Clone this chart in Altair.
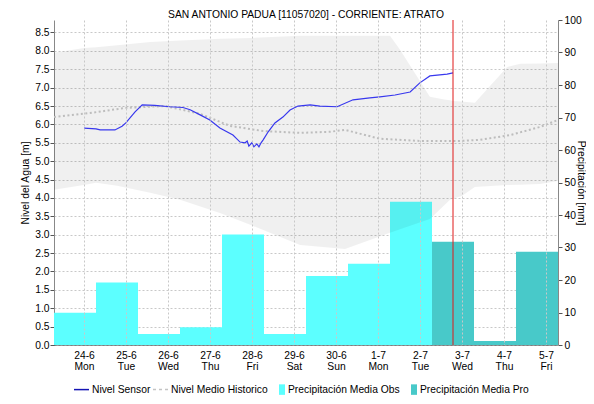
import json
import altair as alt
import pandas as pd

TITLE = "SAN ANTONIO PADUA [11057020] - CORRIENTE: ATRATO"
FONT = "Liberation Sans"
FS = 10.3

# ---- categories / ticks ----
day_labels = ["24-6", "25-6", "26-6", "27-6", "28-6", "29-6", "30-6", "1-7", "2-7", "3-7", "4-7", "5-7"]
weekday_labels = ["Mon", "Tue", "Wed", "Thu", "Fri", "Sat", "Sun", "Mon", "Tue", "Wed", "Thu", "Fri"]
tick_offset = 0.714
level_ticks = [0.0, 0.5, 1.0, 1.5, 2.0, 2.5, 3.0, 3.5, 4.0, 4.5, 5.0, 5.5, 6.0, 6.5, 7.0, 7.5, 8.0, 8.5]
precip_ticks = [0, 10, 20, 30, 40, 50, 60, 70, 80, 90, 100]

series_names = ["Nivel Sensor", "Nivel Medio Historico", "Precipitación Media Obs", "Precipitación Media Pro"]
series_colors = ["#1414b4", "#c4c4c4", "#5cffff", "#48c9c9"]

# ---- precipitation (mm), one per day slot ----
precip_obs = [9.9, 19.2, 3.4, 5.5, 34.0, 3.4, 21.2, 25.0, 44.1]
precip_pro = [31.8, 1.2, 28.7]

# ---- water level sensor (m) ----
sensor_x = [0.714, 1.0, 1.10, 1.45, 1.62, 1.71, 1.93, 2.10, 2.40, 2.76, 3.07, 3.24, 3.48, 3.71,
            3.95, 4.26, 4.43, 4.55, 4.60, 4.64, 4.71, 4.76, 4.83, 4.88, 4.93, 4.98, 5.10, 5.26,
            5.45, 5.62, 5.81, 6.10, 6.33, 6.74, 7.12, 7.52, 7.76, 8.12, 8.48, 8.71, 8.95, 9.36, 9.5]
sensor_y = [5.90, 5.88, 5.85, 5.85, 5.95, 6.04, 6.34, 6.53, 6.52, 6.48, 6.46, 6.40, 6.26, 6.12,
            5.90, 5.71, 5.52, 5.50, 5.55, 5.41, 5.50, 5.39, 5.47, 5.39, 5.50, 5.58, 5.80, 6.04,
            6.20, 6.39, 6.50, 6.53, 6.50, 6.48, 6.67, 6.72, 6.75, 6.80, 6.88, 7.13, 7.32, 7.37, 7.40]

# ---- historic mean level (m) ----
mean_x = [0, 0.857, 1.714, 2.643, 3.476, 4.19, 4.976, 5.857, 6.57, 6.93, 7.76, 8.71, 9.67, 10.14, 10.86, 11.57, 12]
mean_y = [6.20, 6.31, 6.45, 6.50, 6.29, 5.96, 5.82, 5.77, 5.80, 5.85, 5.61, 5.55, 5.55, 5.58, 5.71, 5.93, 6.12]

# ---- historic range band (m) ----
band_x = [0, 0.714, 1.0, 1.5, 2.286, 3.0, 3.95, 4.67, 5.86, 6.93, 8.0, 8.24, 8.95, 9.3, 9.43, 9.5,
          9.71, 10.02, 10.79, 11.1, 11.57, 12]
band_high = [7.95, 8.08, 8.10, 8.15, 8.24, 8.28, 8.33, 8.35, 8.41, 8.41, 8.41, 8.03, 6.75, 6.68, 6.66,
             6.64, 6.62, 6.59, 7.56, 7.65, 7.66, 7.67]
band_low = [4.22, 4.35, 4.41, 4.33, 4.14, 3.95, 3.59, 3.27, 2.72, 2.61, 3.05, 3.15, 3.43, 3.81, 3.95,
            3.98, 4.05, 4.30, 4.35, 4.36, 4.38, 4.46]

now_x = 9.5

# ---- tables ----
bar_df = pd.DataFrame({
    "slot": list(range(len(precip_obs) + len(precip_pro))),
    "mm": precip_obs + precip_pro,
    "kind": ["obs"] * len(precip_obs) + ["pro"] * len(precip_pro),
})
sensor_df = pd.DataFrame({"x": sensor_x, "y": sensor_y})
mean_df = pd.DataFrame({"x": mean_x, "y": mean_y})
band_df = pd.DataFrame({"x": band_x, "low": band_low, "high": band_high})
now_df = pd.DataFrame({"x": [now_x]})
legend_df = pd.DataFrame({"serie": series_names})

# ---- scales / axes ----
x_scale = alt.Scale(domain=[0, len(day_labels)], nice=False, zero=False, padding=0)
label_pairs = [[d, w] for d, w in zip(day_labels, weekday_labels)]
x_axis = alt.Axis(
    values=[i + tick_offset for i in range(len(day_labels))],
    labelExpr=f"{json.dumps(label_pairs)}[round(datum.value - {tick_offset})]",
    title=None, grid=True, gridDash=[2, 2], gridColor="#c8c8c8",
    ticks=False, domainDash=[1, 1], domainColor="#333", labelPadding=5,
    labelLineHeight=11, labelFlush=False, labelOverlap=False, zindex=1,
)
lvl_scale = alt.Scale(domain=[0, 8.84], nice=False, zero=False)
lvl_axis = alt.Axis(
    orient="left", values=level_ticks, format=".1f", title="Nivel del Agua [m]",
    grid=True, gridDash=[2, 2], gridColor="#c8c8c8", tickSize=4, tickColor="#555",
    domainColor="#888", labelPadding=1, titlePadding=4,
)
pr_scale = alt.Scale(domain=[0, 100], nice=False)
pr_axis = alt.Axis(
    orient="right", values=precip_ticks, title="Precipitación [mm]", grid=False,
    tickSize=4, tickColor="#555", domainColor="#888", labelPadding=2, titlePadding=-6,
)


def X(field):
    return alt.X(field, scale=x_scale, axis=x_axis)


bars = alt.Chart(bar_df).transform_calculate(
    x0="datum.slot", x1="datum.slot + 1"
).mark_bar(orient="vertical", strokeWidth=0).encode(
    x=X("x0:Q"), x2="x1:Q",
    y=alt.Y("mm:Q", scale=pr_scale, axis=pr_axis),
    color=alt.condition(alt.datum.kind == "pro", alt.value(series_colors[3]), alt.value(series_colors[2])),
)

band = alt.Chart(band_df).mark_area(color="#000000", opacity=0.06).encode(
    x=X("x:Q"), y=alt.Y("low:Q", scale=lvl_scale, axis=lvl_axis), y2="high:Q"
)
mean_line = alt.Chart(mean_df).mark_line(color="#bdbdbd", strokeDash=[2, 2.5], strokeWidth=2).encode(
    x=X("x:Q"), y=alt.Y("y:Q", scale=lvl_scale, axis=lvl_axis)
)
sensor_line = alt.Chart(sensor_df).mark_line(color="#3838ee", strokeWidth=1.2).encode(
    x=X("x:Q"), y=alt.Y("y:Q", scale=lvl_scale, axis=lvl_axis)
)
now_rule = alt.Chart(now_df).mark_rule(color="#e01818", strokeWidth=1).encode(x=X("x:Q"))

level = alt.layer(band, mean_line, sensor_line, now_rule)

legend_paths = [
    "M-1,-0.1H1V0.1H-1Z",
    "M-1,-0.1H-0.6V0.1H-1Z M-0.2,-0.1H0.2V0.1H-0.2Z M0.6,-0.1H1V0.1H0.6Z",
    "M0.2,-0.7H1V0.7H0.2Z",
    "M0.2,-0.7H1V0.7H0.2Z",
]
leg = alt.Legend(
    title=None, orient="none", legendX=20, legendY=362, direction="horizontal",
    columnPadding=2, labelOffset=3, symbolSize=225, symbolStrokeWidth=0,
    labelFont=FONT, labelFontSize=FS, labelColor="#000", padding=0,
)
legend_layer = alt.Chart(legend_df).transform_filter("false").mark_point(filled=True, opacity=1).encode(
    color=alt.Color("serie:N", scale=alt.Scale(domain=series_names, range=series_colors), legend=leg),
    shape=alt.Shape("serie:N", scale=alt.Scale(domain=series_names, range=legend_paths), legend=leg),
)

chart = alt.layer(bars, level, legend_layer).resolve_scale(y="independent").properties(
    width=504, height=325,
    autosize=alt.AutoSizeParams(type="none"),
    padding={"left": 46, "top": 12, "right": 28, "bottom": 51},
    title=alt.TitleParams(TITLE, font=FONT, fontSize=FS, fontWeight="normal", color="#000",
                          anchor="middle", frame="group", offset=-13, baseline="alphabetic"),
).configure_axis(
    labelFont=FONT, labelFontSize=FS, labelColor="#000",
    titleFont=FONT, titleFontSize=FS, titleFontWeight="normal", titleColor="#000",
).configure_view(stroke=None)

chart.save("out.html", embed_options={"renderer": "svg", "actions": False})
